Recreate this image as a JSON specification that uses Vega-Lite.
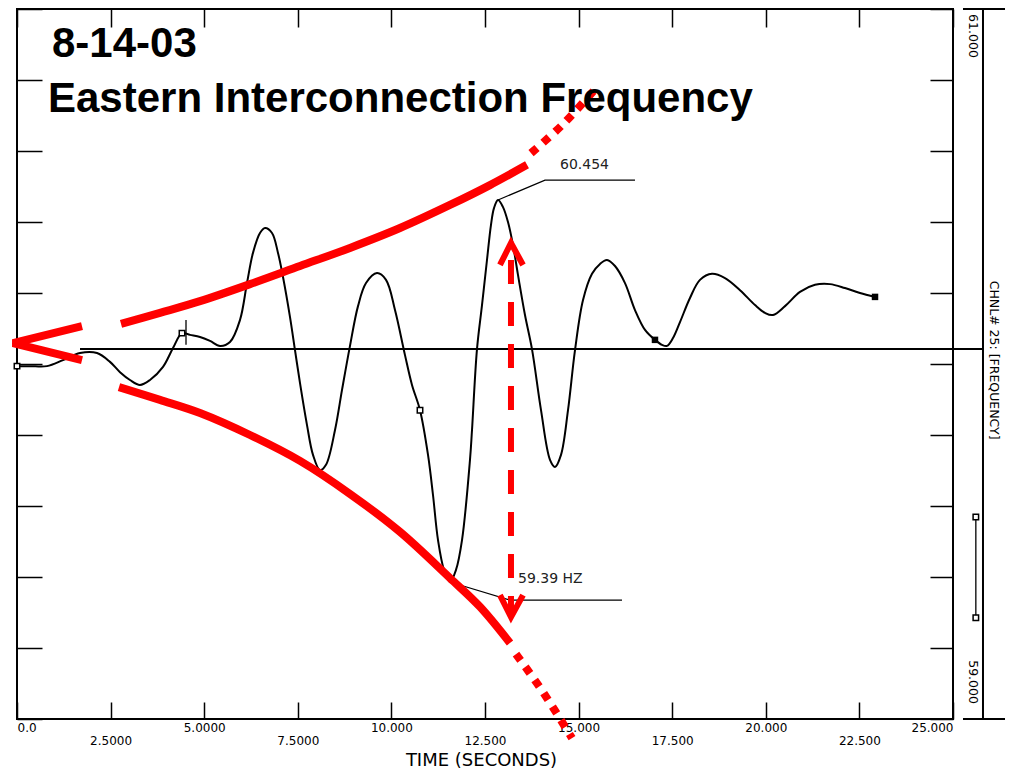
{
  "$schema": "https://vega.github.io/schema/vega-lite/v6.json",
  "width": 936,
  "height": 710,
  "autosize": {"type": "none"},
  "padding": {"left": 17, "top": 9, "right": 62, "bottom": 49},
  "background": "white",
  "config": {
    "view": {"stroke": "black", "strokeWidth": 2},
    "axis": {"grid": false, "domain": false}
  },
  "datasets": {
    "freq": [
      {"t": 0, "f": 59.994}, {"t": 0.347, "f": 59.994}, {"t": 0.801, "f": 59.994},
      {"t": 1.229, "f": 60.011}, {"t": 1.683, "f": 60.031}, {"t": 2.137, "f": 60.031},
      {"t": 2.484, "f": 60.006}, {"t": 2.751, "f": 59.977}, {"t": 3.018, "f": 59.955},
      {"t": 3.285, "f": 59.941}, {"t": 3.552, "f": 59.955}, {"t": 3.9, "f": 59.992},
      {"t": 4.167, "f": 60.045}, {"t": 4.407, "f": 60.087}, {"t": 4.621, "f": 60.082},
      {"t": 4.888, "f": 60.076}, {"t": 5.155, "f": 60.065}, {"t": 5.422, "f": 60.051},
      {"t": 5.689, "f": 60.062}, {"t": 5.956, "f": 60.124}, {"t": 6.143, "f": 60.228},
      {"t": 6.303, "f": 60.313}, {"t": 6.49, "f": 60.369}, {"t": 6.624, "f": 60.383},
      {"t": 6.811, "f": 60.369}, {"t": 6.971, "f": 60.313}, {"t": 7.105, "f": 60.245},
      {"t": 7.292, "f": 60.132}, {"t": 7.425, "f": 60.039}, {"t": 7.559, "f": 59.946},
      {"t": 7.746, "f": 59.828}, {"t": 7.906, "f": 59.744}, {"t": 8.093, "f": 59.701},
      {"t": 8.253, "f": 59.716}, {"t": 8.494, "f": 59.814}, {"t": 8.681, "f": 59.927},
      {"t": 8.894, "f": 60.051}, {"t": 9.108, "f": 60.163}, {"t": 9.322, "f": 60.228},
      {"t": 9.615, "f": 60.256}, {"t": 9.856, "f": 60.237}, {"t": 10.096, "f": 60.152},
      {"t": 10.363, "f": 60.025}, {"t": 10.55, "f": 59.941}, {"t": 10.764, "f": 59.87},
      {"t": 10.978, "f": 59.744}, {"t": 11.111, "f": 59.631}, {"t": 11.245, "f": 59.504},
      {"t": 11.405, "f": 59.42}, {"t": 11.565, "f": 59.386}, {"t": 11.725, "f": 59.42},
      {"t": 11.886, "f": 59.504}, {"t": 12.099, "f": 59.73}, {"t": 12.153, "f": 59.814},
      {"t": 12.286, "f": 60.042}, {"t": 12.42, "f": 60.166}, {"t": 12.553, "f": 60.293},
      {"t": 12.66, "f": 60.392}, {"t": 12.74, "f": 60.439}, {"t": 12.847, "f": 60.462},
      {"t": 12.981, "f": 60.442}, {"t": 13.114, "f": 60.4}, {"t": 13.248, "f": 60.335},
      {"t": 13.381, "f": 60.251}, {"t": 13.568, "f": 60.138}, {"t": 13.755, "f": 60.042},
      {"t": 13.996, "f": 59.87}, {"t": 14.236, "f": 59.73},
      {"t": 14.37, "f": 59.71}, {"t": 14.53, "f": 59.744}, {"t": 14.717, "f": 59.87},
      {"t": 14.904, "f": 60.039}, {"t": 15.118, "f": 60.18}, {"t": 15.358, "f": 60.254},
      {"t": 15.572, "f": 60.282}, {"t": 15.759, "f": 60.293}, {"t": 15.972, "f": 60.276},
      {"t": 16.239, "f": 60.228}, {"t": 16.506, "f": 60.152}, {"t": 16.774, "f": 60.096},
      {"t": 17.04, "f": 60.068}, {"t": 17.228, "f": 60.054}, {"t": 17.361, "f": 60.051},
      {"t": 17.521, "f": 60.073}, {"t": 17.708, "f": 60.118}, {"t": 17.975, "f": 60.186},
      {"t": 18.242, "f": 60.237}, {"t": 18.563, "f": 60.254}, {"t": 18.91, "f": 60.242},
      {"t": 19.311, "f": 60.208}, {"t": 19.712, "f": 60.166}, {"t": 19.979, "f": 60.144},
      {"t": 20.192, "f": 60.138}, {"t": 20.513, "f": 60.163}, {"t": 20.913, "f": 60.203},
      {"t": 21.314, "f": 60.223}, {"t": 21.715, "f": 60.225}, {"t": 22.115, "f": 60.214},
      {"t": 22.516, "f": 60.2}, {"t": 22.917, "f": 60.189}
    ],
    "markers": [
      {"k": "open", "t": 0, "f": 59.994},
      {"k": "open", "t": 4.407, "f": 60.087},
      {"k": "open", "t": 10.764, "f": 59.87},
      {"k": "open", "t": 25.61, "f": 59.569},
      {"k": "open", "t": 25.61, "f": 59.285},
      {"k": "solid", "t": 17.04, "f": 60.068},
      {"k": "solid", "t": 22.917, "f": 60.189}
    ],
    "red": [
      {"g": "apex", "o": 1, "t": 1.736, "f": 60.107},
      {"g": "apex", "o": 2, "t": -0.107, "f": 60.059},
      {"g": "apex", "o": 3, "t": 1.736, "f": 60.011},
      {"g": "upper", "o": 1, "t": 2.778, "f": 60.113},
      {"g": "upper", "o": 2, "t": 3.819, "f": 60.144},
      {"g": "upper", "o": 3, "t": 4.888, "f": 60.177},
      {"g": "upper", "o": 4, "t": 6.223, "f": 60.225},
      {"g": "upper", "o": 5, "t": 7.559, "f": 60.276},
      {"g": "upper", "o": 6, "t": 8.894, "f": 60.327},
      {"g": "upper", "o": 7, "t": 10.23, "f": 60.383},
      {"g": "upper", "o": 8, "t": 11.565, "f": 60.448},
      {"g": "upper", "o": 9, "t": 12.633, "f": 60.504},
      {"g": "upper", "o": 10, "t": 13.622, "f": 60.561},
      {"g": "lower", "o": 1, "t": 2.724, "f": 59.935},
      {"g": "lower", "o": 2, "t": 3.819, "f": 59.899},
      {"g": "lower", "o": 3, "t": 4.888, "f": 59.862},
      {"g": "lower", "o": 4, "t": 6.223, "f": 59.8},
      {"g": "lower", "o": 5, "t": 7.559, "f": 59.727},
      {"g": "lower", "o": 6, "t": 8.894, "f": 59.634},
      {"g": "lower", "o": 7, "t": 10.23, "f": 59.527},
      {"g": "lower", "o": 8, "t": 11.565, "f": 59.397},
      {"g": "lower", "o": 9, "t": 12.366, "f": 59.316},
      {"g": "lower", "o": 10, "t": 13.168, "f": 59.214},
      {"g": "upperDot", "o": 1, "t": 13.73, "f": 60.594},
      {"g": "upperDot", "o": 2, "t": 14.56, "f": 60.673},
      {"g": "upperDot", "o": 3, "t": 15.49, "f": 60.78},
      {"g": "lowerDot", "o": 1, "t": 13.328, "f": 59.183},
      {"g": "lowerDot", "o": 2, "t": 14.049, "f": 59.076},
      {"g": "lowerDot", "o": 3, "t": 14.824, "f": 58.946},
      {"g": "arrowTop", "o": 1, "t": 12.9, "f": 60.279},
      {"g": "arrowTop", "o": 2, "t": 13.194, "f": 60.341},
      {"g": "arrowTop", "o": 3, "t": 13.515, "f": 60.279},
      {"g": "arrowBot", "o": 1, "t": 12.9, "f": 59.349},
      {"g": "arrowBot", "o": 2, "t": 13.194, "f": 59.287},
      {"g": "arrowBot", "o": 3, "t": 13.515, "f": 59.349},
      {"g": "shaft", "o": 1, "t": 13.194, "f": 60.293},
      {"g": "shaft", "o": 2, "t": 13.194, "f": 59.287}
    ],
    "leaders": [
      {"g": "peak", "o": 1, "t": 12.847, "f": 60.462},
      {"g": "peak", "o": 2, "t": 14.103, "f": 60.518},
      {"g": "peak", "o": 3, "t": 16.506, "f": 60.518},
      {"g": "trough", "o": 1, "t": 11.565, "f": 59.386},
      {"g": "trough", "o": 2, "t": 13.168, "f": 59.335},
      {"g": "trough", "o": 3, "t": 16.159, "f": 59.335}
    ],
    "rules": [
      {"k": "ref", "t": 1.683, "t2": 25.801, "f": 60.042, "f2": 60.042},
      {"k": "raxis", "t": 25.801, "t2": 25.801, "f": 59, "f2": 61},
      {"k": "capTop", "t": 25.267, "t2": 26.389, "f": 61, "f2": 61},
      {"k": "capBot", "t": 25.267, "t2": 26.389, "f": 59, "f2": 59},
      {"k": "small", "t": 25.61, "t2": 25.61, "f": 59.285, "f2": 59.569},
      {"k": "tick", "t": 4.514, "t2": 4.514, "f": 60.054, "f2": 60.124}
    ],
    "titles": [
      {"label": "8-14-03", "t": 0.935, "f": 60.865},
      {"label": "Eastern Interconnection Frequency", "t": 0.828, "f": 60.71}
    ],
    "notes": [
      {"label": "60.454", "t": 14.503, "f": 60.549},
      {"label": "59.39 HZ", "t": 13.382, "f": 59.383}
    ],
    "side": [
      {"label": "61.000", "t": 25.534, "f": 60.924},
      {"label": "CHNL# 25: [FREQUENCY]", "t": 26.095, "f": 60.011},
      {"label": "59.000", "t": 25.534, "f": 59.104}
    ]
  },
  "resolve": {"axis": {"x": "independent", "y": "independent"}},
  "layer": [
    {
      "data": {"name": "freq"},
      "mark": {"type": "line", "color": "black", "strokeWidth": 2, "interpolate": "catmull-rom"},
      "encoding": {
        "x": {
          "field": "t", "type": "quantitative",
          "scale": {"domain": [0, 25], "nice": false, "zero": false},
          "axis": {
            "orient": "bottom",
            "values": [0, 2.5, 5, 7.5, 10, 12.5, 15, 17.5, 20, 22.5, 25],
            "labelExpr": "datum.value === 0 ? '0.0' : format(datum.value, '.5r')",
            "tickSize": -17, "tickColor": "black", "tickWidth": 1.5,
            "labelFont": "DejaVu Sans", "labelFontSize": 12, "labelColor": "black",
            "labelBaseline": "top", "labelFlush": true,
            "labelPadding": {"condition": {"test": "datum.value % 5 !== 0", "value": 33}, "value": 20},
            "title": "TIME (SECONDS)", "titleFont": "DejaVu Sans", "titleFontSize": 18,
            "titleFontWeight": "normal", "titleColor": "black",
            "titleY": 46, "titleX": 464, "titleBaseline": "alphabetic", "titleAlign": "center"
          }
        },
        "y": {
          "field": "f", "type": "quantitative",
          "scale": {"domain": [59, 61], "nice": false, "zero": false},
          "axis": {
            "orient": "left",
            "values": [59, 59.2, 59.4, 59.6, 59.8, 60, 60.2, 60.4, 60.6, 60.8, 61],
            "labels": false, "tickSize": -25, "tickColor": "black", "tickWidth": 1.5, "title": null
          }
        }
      }
    },
    {
      "data": {"name": "rules"},
      "transform": [{"filter": "datum.k !== 'small' && datum.k !== 'tick'"}],
      "mark": {"type": "rule", "color": "black", "strokeWidth": 2},
      "encoding": {
        "x": {
          "field": "t", "type": "quantitative",
          "scale": {"domain": [0, 25], "nice": false, "zero": false},
          "axis": {
            "orient": "top",
            "values": [0, 2.5, 5, 7.5, 10, 12.5, 15, 17.5, 20, 22.5, 25],
            "labels": false, "tickSize": -18, "tickColor": "black", "tickWidth": 1.5, "title": null
          }
        },
        "x2": {"field": "t2"},
        "y": {
          "field": "f", "type": "quantitative",
          "scale": {"domain": [59, 61], "nice": false, "zero": false},
          "axis": {
            "orient": "right",
            "values": [59, 59.2, 59.4, 59.6, 59.8, 60, 60.2, 60.4, 60.6, 60.8, 61],
            "labels": false, "tickSize": -23, "tickColor": "black", "tickWidth": 1.5, "title": null
          }
        },
        "y2": {"field": "f2"}
      }
    },
    {
      "data": {"name": "rules"},
      "transform": [{"filter": "datum.k === 'small' || datum.k === 'tick'"}],
      "mark": {"type": "rule", "color": "black", "strokeWidth": 1.3},
      "encoding": {
        "x": {"field": "t", "type": "quantitative", "scale": {"domain": [0, 25], "nice": false, "zero": false}, "axis": null},
        "x2": {"field": "t2"},
        "y": {"field": "f", "type": "quantitative", "scale": {"domain": [59, 61], "nice": false, "zero": false}, "axis": null},
        "y2": {"field": "f2"}
      }
    },
    {
      "data": {"name": "leaders"},
      "mark": {"type": "line", "color": "black", "strokeWidth": 1.2},
      "encoding": {
        "x": {"field": "t", "type": "quantitative", "scale": {"domain": [0, 25], "nice": false, "zero": false}, "axis": null},
        "y": {"field": "f", "type": "quantitative", "scale": {"domain": [59, 61], "nice": false, "zero": false}, "axis": null},
        "detail": {"field": "g"},
        "order": {"field": "o"}
      }
    },
    {
      "data": {"name": "markers"},
      "transform": [{"filter": "datum.k === 'open'"}],
      "mark": {"type": "square", "size": 30, "filled": true, "fill": "white", "stroke": "black", "strokeWidth": 1.5, "opacity": 1},
      "encoding": {
        "x": {"field": "t", "type": "quantitative", "scale": {"domain": [0, 25], "nice": false, "zero": false}, "axis": null},
        "y": {"field": "f", "type": "quantitative", "scale": {"domain": [59, 61], "nice": false, "zero": false}, "axis": null}
      }
    },
    {
      "data": {"name": "markers"},
      "transform": [{"filter": "datum.k === 'solid'"}],
      "mark": {"type": "square", "size": 42, "filled": true, "color": "black", "opacity": 1},
      "encoding": {
        "x": {"field": "t", "type": "quantitative", "scale": {"domain": [0, 25], "nice": false, "zero": false}, "axis": null},
        "y": {"field": "f", "type": "quantitative", "scale": {"domain": [59, 61], "nice": false, "zero": false}, "axis": null}
      }
    },
    {
      "data": {"name": "red"},
      "transform": [{"filter": "datum.g === 'upper' || datum.g === 'lower'"}],
      "mark": {"type": "line", "color": "#ff0000", "strokeWidth": 8, "interpolate": "catmull-rom", "strokeCap": "butt"},
      "encoding": {
        "x": {"field": "t", "type": "quantitative", "scale": {"domain": [0, 25], "nice": false, "zero": false}, "axis": null},
        "y": {"field": "f", "type": "quantitative", "scale": {"domain": [59, 61], "nice": false, "zero": false}, "axis": null},
        "detail": {"field": "g"},
        "order": {"field": "o"}
      }
    },
    {
      "data": {"name": "red"},
      "transform": [{"filter": "datum.g === 'apex'"}],
      "mark": {"type": "line", "color": "#ff0000", "strokeWidth": 8, "strokeCap": "butt", "strokeJoin": "miter"},
      "encoding": {
        "x": {"field": "t", "type": "quantitative", "scale": {"domain": [0, 25], "nice": false, "zero": false}, "axis": null},
        "y": {"field": "f", "type": "quantitative", "scale": {"domain": [59, 61], "nice": false, "zero": false}, "axis": null},
        "detail": {"field": "g"},
        "order": {"field": "o"}
      }
    },
    {
      "data": {"name": "red"},
      "transform": [{"filter": "datum.g === 'upperDot' || datum.g === 'lowerDot'"}],
      "mark": {"type": "line", "color": "#ff0000", "strokeWidth": 8, "strokeDash": [8, 8], "strokeCap": "butt", "interpolate": "catmull-rom"},
      "encoding": {
        "x": {"field": "t", "type": "quantitative", "scale": {"domain": [0, 25], "nice": false, "zero": false}, "axis": null},
        "y": {"field": "f", "type": "quantitative", "scale": {"domain": [59, 61], "nice": false, "zero": false}, "axis": null},
        "detail": {"field": "g"},
        "order": {"field": "o"}
      }
    },
    {
      "data": {"name": "red"},
      "transform": [{"filter": "datum.g === 'arrowTop' || datum.g === 'arrowBot'"}],
      "mark": {"type": "line", "color": "#ff0000", "strokeWidth": 6, "strokeCap": "butt", "strokeJoin": "miter"},
      "encoding": {
        "x": {"field": "t", "type": "quantitative", "scale": {"domain": [0, 25], "nice": false, "zero": false}, "axis": null},
        "y": {"field": "f", "type": "quantitative", "scale": {"domain": [59, 61], "nice": false, "zero": false}, "axis": null},
        "detail": {"field": "g"},
        "order": {"field": "o"}
      }
    },
    {
      "data": {"name": "red"},
      "transform": [{"filter": "datum.g === 'shaft'"}],
      "mark": {"type": "line", "color": "#ff0000", "strokeWidth": 6, "strokeDash": [24, 18], "strokeCap": "butt"},
      "encoding": {
        "x": {"field": "t", "type": "quantitative", "scale": {"domain": [0, 25], "nice": false, "zero": false}, "axis": null},
        "y": {"field": "f", "type": "quantitative", "scale": {"domain": [59, 61], "nice": false, "zero": false}, "axis": null},
        "detail": {"field": "g"},
        "order": {"field": "o"}
      }
    },
    {
      "data": {"name": "notes"},
      "mark": {"type": "text", "font": "DejaVu Sans", "fontSize": 14, "align": "left", "baseline": "alphabetic", "color": "#222222"},
      "encoding": {
        "x": {"field": "t", "type": "quantitative", "scale": {"domain": [0, 25], "nice": false, "zero": false}, "axis": null},
        "y": {"field": "f", "type": "quantitative", "scale": {"domain": [59, 61], "nice": false, "zero": false}, "axis": null},
        "text": {"field": "label"}
      }
    },
    {
      "data": {"name": "side"},
      "mark": {"type": "text", "font": "DejaVu Sans", "fontSize": 12.5, "angle": 90, "align": "center", "baseline": "middle", "color": "black"},
      "encoding": {
        "x": {"field": "t", "type": "quantitative", "scale": {"domain": [0, 25], "nice": false, "zero": false}, "axis": null},
        "y": {"field": "f", "type": "quantitative", "scale": {"domain": [59, 61], "nice": false, "zero": false}, "axis": null},
        "text": {"field": "label"}
      }
    },
    {
      "data": {"name": "titles"},
      "mark": {"type": "text", "font": "Liberation Sans", "fontSize": 42, "fontWeight": "bold", "align": "left", "baseline": "alphabetic", "color": "black"},
      "encoding": {
        "x": {"field": "t", "type": "quantitative", "scale": {"domain": [0, 25], "nice": false, "zero": false}, "axis": null},
        "y": {"field": "f", "type": "quantitative", "scale": {"domain": [59, 61], "nice": false, "zero": false}, "axis": null},
        "text": {"field": "label"}
      }
    }
  ]
}
